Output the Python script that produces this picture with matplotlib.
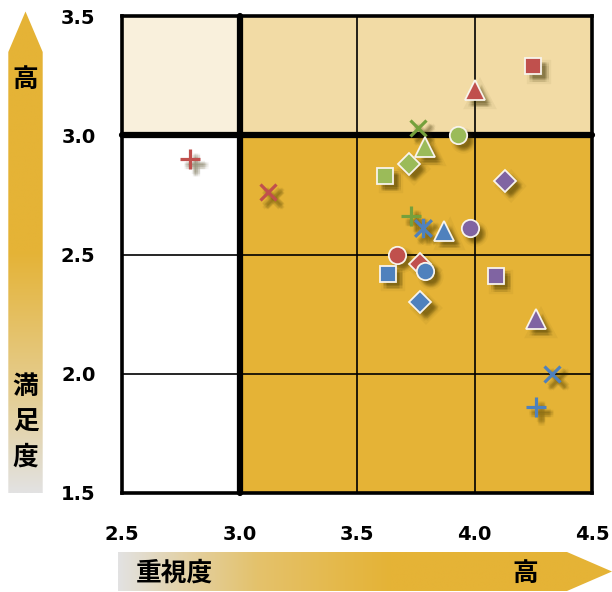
import numpy as np
import matplotlib
matplotlib.use('Agg')
import matplotlib.pyplot as plt
from matplotlib.path import Path
from matplotlib.patches import Polygon, Rectangle
import matplotlib.patheffects as pe
from matplotlib.colors import to_rgb

# ---------------- data ----------------
x_ticks = [2.5, 3.0, 3.5, 4.0, 4.5]
y_ticks = [1.5, 2.0, 2.5, 3.0, 3.5]
x_tick_labels = ['2.5', '3.0', '3.5', '4.0', '4.5']
y_tick_labels = ['1.5', '2.0', '2.5', '3.0', '3.5']
x_threshold = 3.0
y_threshold = 3.0

red_markers = ['s', '^', '+', 'x', 'o', 'D']
red_x = [4.25, 4.00, 2.79, 3.12, 3.67, 3.77]
red_y = [3.29, 3.19, 2.90, 2.76, 2.50, 2.46]

green_markers = ['x', 'o', '^', 'D', 's', '+']
green_x = [3.76, 3.93, 3.79, 3.72, 3.62, 3.73]
green_y = [3.03, 3.00, 2.95, 2.88, 2.83, 2.66]

blue_markers = ['*', '^', 'o', 's', 'D', 'x', '+']
blue_x = [3.78, 3.87, 3.79, 3.63, 3.77, 4.33, 4.26]
blue_y = [2.61, 2.60, 2.43, 2.42, 2.30, 2.00, 1.86]

purple_markers = ['D', 'o', 's', '^']
purple_x = [4.13, 3.98, 4.09, 4.26]
purple_y = [2.81, 2.61, 2.41, 2.23]

y_label_top = '高'
y_label_bottom = '満足度'
x_label_left = '重視度'
x_label_right = '高'

# ---------------- styles ----------------
RED, GREEN, BLUE, PURPLE = '#C0504D', '#9BBB59', '#4F81BD', '#8064A2'
GREEN_LINE = '#75A03C'
GOLD = '#E5B336'
GREY = '#E2E2E2'
Q_UL, Q_UR, Q_LL, Q_LR = '#F9F0DC', '#F2DBA5', '#FFFFFF', GOLD
CJK = ['Noto Sans CJK JP', 'DejaVu Sans']

series = [
    (red_markers, red_x, red_y, RED, RED),
    (green_markers, green_x, green_y, GREEN, GREEN_LINE),
    (blue_markers, blue_x, blue_y, BLUE, BLUE),
    (purple_markers, purple_x, purple_y, PURPLE, PURPLE),
]

ast_path = Path([(-0.5, -0.5), (0.5, 0.5), (-0.5, 0.5), (0.5, -0.5), (0, -0.58), (0, 0.58)],
                [Path.MOVETO, Path.LINETO] * 3)

msize = {'s': 11.5, 'o': 12.5, '^': 14, 'D': 11, 'x': 11.5, '+': 14, '*': 14}

fig = plt.figure(figsize=(6.12, 5.92), dpi=100)

# ---------- background (gradient arrows) ----------
bg = fig.add_axes([0, 0, 1, 1], zorder=0)
bg.set_xlim(0, 612)
bg.set_ylim(592, 0)
bg.axis('off')


def gradient(stops, n=300):
    t = np.linspace(0, 1, n)
    pos = [s[0] for s in stops]
    cols = np.array([to_rgb(s[1]) for s in stops])
    return np.stack([np.interp(t, pos, cols[:, i]) for i in range(3)], axis=-1)


# vertical arrow
vg = gradient([(0, GOLD), (0.50, GOLD), (0.80, '#E4CE94'), (1.0, GREY)])[:, None, :]
vpoly = Polygon([(8.3, 52), (25.5, 11.5), (42.7, 52), (42.7, 493), (8.3, 493)],
                closed=True, fc='none', ec='none', transform=bg.transData)
bg.add_patch(vpoly)
im = bg.imshow(vg, extent=(8.3, 42.7, 493, 11.5), aspect='auto', origin='upper',
               interpolation='bilinear')
im.set_clip_path(vpoly)

# horizontal arrow
hg = gradient([(0, GREY), (0.12, '#E3D3AC'), (0.28, '#E4C26C'), (0.55, GOLD), (1.0, GOLD)])[None, :, :]
hpoly = Polygon([(118, 552), (567, 552), (612, 571.5), (567, 591), (118, 591)],
                closed=True, fc='none', ec='none', transform=bg.transData)
bg.add_patch(hpoly)
im2 = bg.imshow(hg, extent=(118, 612, 591, 552), aspect='auto', origin='upper',
                interpolation='bilinear')
im2.set_clip_path(hpoly)

bg.text(25.5, 79, y_label_top, ha='center', va='center', fontsize=18.5,
        fontweight='bold', family=CJK)
for i, ch in enumerate(y_label_bottom):
    bg.text(25.5, 387 + i * 35, ch, ha='center', va='center', fontsize=18.5,
            fontweight='bold', family=CJK)
bg.text(174, 573, x_label_left, ha='center', va='center', fontsize=18.5,
        fontweight='bold', family=CJK)
bg.text(525, 573, x_label_right, ha='center', va='center', fontsize=18.5,
        fontweight='bold', family=CJK)
bg.set_xlim(0, 612)
bg.set_ylim(592, 0)

# ---------- main axes ----------
ax = fig.add_axes([122 / 612, 1 - 493 / 592, 470 / 612, 477 / 592], zorder=1)
x0, x1 = x_ticks[0], x_ticks[-1]
y0, y1 = y_ticks[0], y_ticks[-1]
ax.set_xlim(x0, x1)
ax.set_ylim(y0, y1)

ax.add_patch(Rectangle((x0, y_threshold), x_threshold - x0, y1 - y_threshold, fc=Q_UL, ec='none', zorder=0.8))
ax.add_patch(Rectangle((x_threshold, y_threshold), x1 - x_threshold, y1 - y_threshold, fc=Q_UR, ec='none', zorder=0.8))
ax.add_patch(Rectangle((x0, y0), x_threshold - x0, y_threshold - y0, fc=Q_LL, ec='none', zorder=0.8))
ax.add_patch(Rectangle((x_threshold, y0), x1 - x_threshold, y_threshold - y0, fc=Q_LR, ec='none', zorder=0.8))

ax.set_xticks(x_ticks)
ax.set_xticklabels(x_tick_labels)
ax.set_yticks(y_ticks)
ax.set_yticklabels(y_tick_labels)
ax.set_axisbelow('line')
ax.grid(True, color='black', lw=1.2)
ax.tick_params(axis='both', length=0, labelsize=14)
ax.tick_params(axis='x', pad=23)
ax.tick_params(axis='y', pad=19)
for lab in ax.get_xticklabels() + ax.get_yticklabels():
    lab.set_fontweight('bold')
    lab.set_family('DejaVu Sans')

ax.axvline(x_threshold, color='black', lw=4.5, zorder=3, solid_capstyle='round', clip_on=False)
ax.axhline(y_threshold, color='black', lw=4.5, zorder=3, solid_capstyle='round', clip_on=False)
for sp in ax.spines.values():
    sp.set_linewidth(2.6)
    sp.set_zorder(3.5)

# soft shadows first (several faint offset layers to imitate blur)
SH = '#3a3000'
offs = [(dx, dy) for dx in (2.5, 3.5, 4.5, 5.5) for dy in (-2.5, -3.5, -4.5, -5.5)]
shadow_fill = [pe.SimpleLineShadow(offset=(4, -4), shadow_color=SH, alpha=0.05, linewidth=6)] + \
              [pe.SimplePatchShadow(offset=o, shadow_rgbFace=SH, alpha=0.045) for o in offs]
shadow_line = [pe.SimpleLineShadow(offset=(4, -4), shadow_color=SH, alpha=0.06, linewidth=6)] + \
              [pe.SimpleLineShadow(offset=o, shadow_color=SH, alpha=0.04) for o in offs]

for markers, xs, ys, col, lcol in series:
    for m, xv, yv in zip(markers, xs, ys):
        mk = ast_path if m == '*' else m
        if m in ('x', '+', '*'):
            ax.plot([xv], [yv], ls='none', marker=mk, ms=msize[m], mec=lcol, mew=2.3,
                    zorder=4, path_effects=shadow_line)
        else:
            ax.plot([xv], [yv], ls='none', marker=mk, ms=msize[m], mfc=col, mec='#F8F4EC', mew=1.3,
                    zorder=4, path_effects=shadow_fill)

for markers, xs, ys, col, lcol in series:
    for m, xv, yv in zip(markers, xs, ys):
        mk = ast_path if m == '*' else m
        if m in ('x', '+', '*'):
            ax.plot([xv], [yv], ls='none', marker=mk, ms=msize[m], mec=lcol, mew=2.3, zorder=5)
        else:
            ax.plot([xv], [yv], ls='none', marker=mk, ms=msize[m], mfc=col, mec='#F8F4EC', mew=1.3, zorder=5)

fig.savefig('out.png', dpi=100)
